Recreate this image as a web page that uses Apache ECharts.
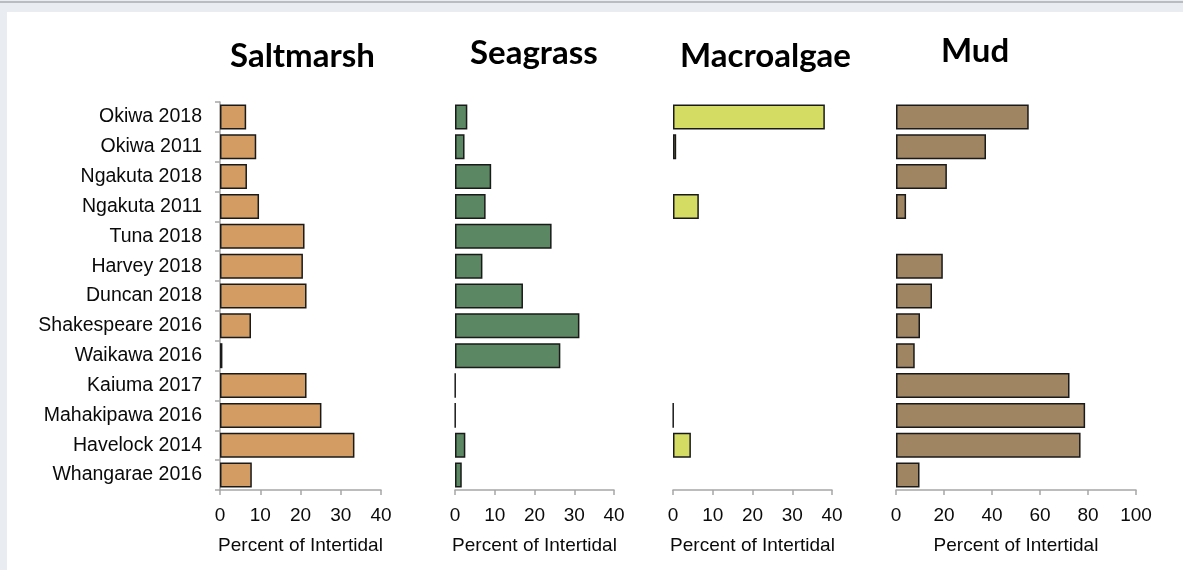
<!DOCTYPE html>
<html>
<head>
<meta charset="utf-8">
<script src="https://cdn.jsdelivr.net/npm/echarts@6/dist/echarts.min.js"></script>
<style>
  html, body { margin: 0; padding: 0; }
  body { width: 1183px; height: 570px; background: #e9edf1; position: relative; overflow: hidden; }
  .topline { position: absolute; left: 0; top: 1px; width: 1183px; height: 2px; background: #b9bdc1; }
  .sheet { position: absolute; left: 7px; top: 12px; right: 0; bottom: 0; background: #fff; }
  #main { position: absolute; left: 0; top: 0; width: 1183px; height: 570px; }
</style>
</head>
<body>
<div class="topline"></div>
<div class="sheet"></div>
<div id="main"></div>
<script>
// 站点（从上到下）
const sites = ['Okiwa 2018', 'Okiwa 2011', 'Ngakuta 2018', 'Ngakuta 2011', 'Tuna 2018', 'Harvey 2018',
  'Duncan 2018', 'Shakespeare 2016', 'Waikawa 2016', 'Kaiuma 2017', 'Mahakipawa 2016', 'Havelock 2014', 'Whangarae 2016'];

// 各类型占潮间带百分比
const saltmarsh = [6.5, 9.0, 6.7, 9.7, 21.0, 20.6, 21.5, 7.7, 0.6, 21.5, 25.2, 33.4, 7.9];
const seagrass = [3.1, 2.4, 9.1, 7.7, 24.3, 6.9, 17.1, 31.3, 26.5, 0.1, 0.1, 2.6, 1.7];
const macroalgae = [38.2, 0.8, null, 6.5, null, null, null, null, null, null, 0.1, 4.5, null];
const mud = [55.3, 37.5, 21.2, 4.2, null, 19.5, 15.0, 10.0, 7.8, 72.3, 78.8, 76.9, 9.8];

const panelTitles = ['Saltmarsh', 'Seagrass', 'Macroalgae', 'Mud'];
const axisMax = [40, 40, 40, 100];
const axisStep = [10, 10, 10, 20];
const axisName = 'Percent of Intertidal';

// 面板布局
const panels = [
  { left: 220, width: 161, color: '#d39c63', data: saltmarsh, titleX: 230, titleY: 61 },
  { left: 455, width: 159, color: '#5b8762', data: seagrass, titleX: 470, titleY: 58 },
  { left: 673, width: 159, color: '#d4dc64', data: macroalgae, titleX: 680, titleY: 61 },
  { left: 896, width: 240, color: '#a08563', data: mud, titleX: 941, titleY: 56 }
];

const font = 'Arial, "Liberation Sans", sans-serif';
const axisGray = '#a6a6a6';

const chart = echarts.init(document.getElementById('main'));

const grid = [], xAxis = [], yAxis = [], series = [], graphic = [];
panels.forEach((p, i) => {
  grid.push({ left: p.left, width: p.width, top: 102, height: 388 });
  xAxis.push({
    type: 'value', gridIndex: i, min: 0, max: axisMax[i], interval: axisStep[i],
    splitLine: { show: false },
    axisLine: { show: true, lineStyle: { color: axisGray, width: 1.5 } },
    axisTick: { show: true, length: 5, lineStyle: { color: axisGray, width: 1.5 } },
    axisLabel: { color: '#0a0a0a', fontSize: 19, fontFamily: font, margin: 16 },
    name: axisName, nameLocation: 'middle', nameGap: 46,
    nameTextStyle: { color: '#0a0a0a', fontSize: 19, fontFamily: font }
  });
  yAxis.push({
    type: 'category', gridIndex: i, data: sites, inverse: true,
    show: i === 0,
    axisLine: { show: true, lineStyle: { color: axisGray, width: 1.5 } },
    axisTick: { show: true, length: 5, lineStyle: { color: axisGray, width: 1.5 } },
    axisLabel: { color: '#0a0a0a', fontSize: 19.5, fontFamily: font, margin: 18, padding: [3, 0, 0, 0] }
  });
  series.push({
    type: 'bar', xAxisIndex: i, yAxisIndex: i, data: p.data,
    barWidth: 25,
    itemStyle: { color: p.color, borderColor: '#1a1a1a', borderWidth: 1.5 },
    silent: true
  });
  graphic.push({
    type: 'text', left: p.titleX, top: p.titleY - 21,
    style: { text: panelTitles[i], font: 'bold 33px Lato, "Open Sans", sans-serif', fill: '#000' }
  });
});

chart.setOption({
  animation: false,
  backgroundColor: 'transparent',
  grid, xAxis, yAxis, series, graphic
});
</script>
</body>
</html>
